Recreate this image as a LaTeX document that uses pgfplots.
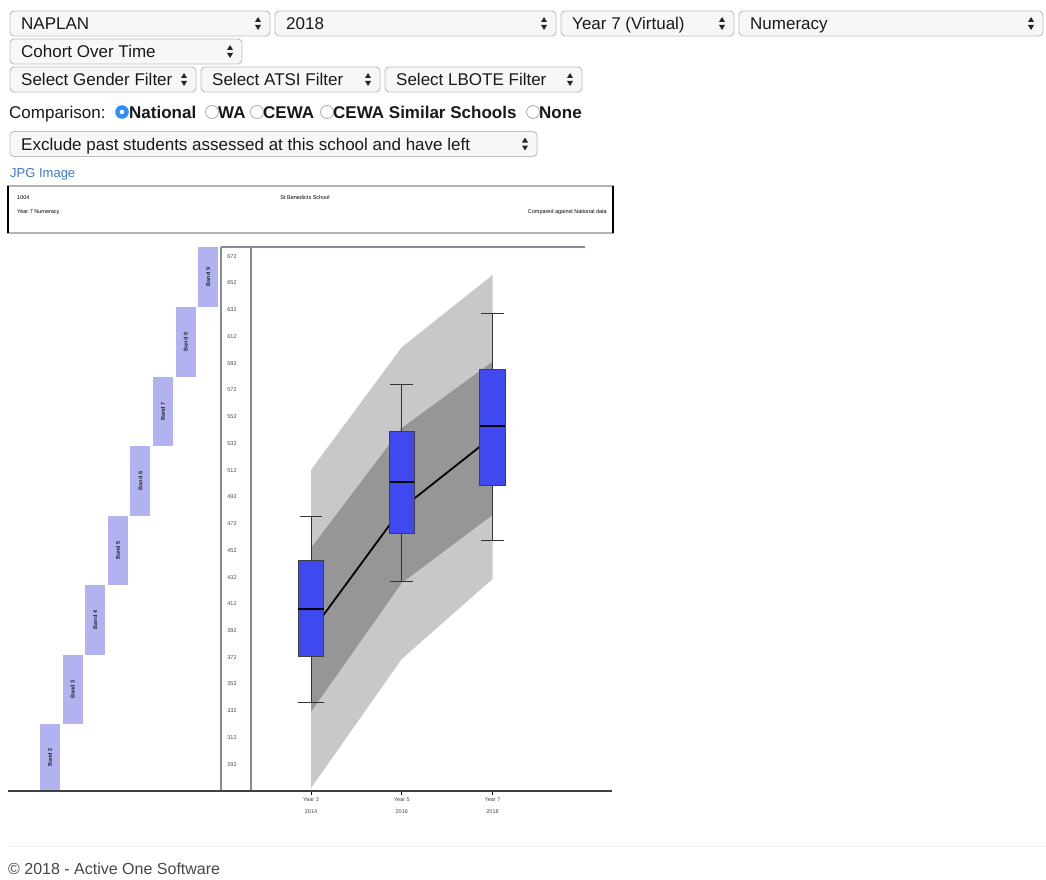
\documentclass[border=0pt]{standalone}
\usepackage{fontspec}
\setmainfont{Liberation Sans}
\usepackage{pgfplots}
\pgfplotsset{compat=1.18}
\definecolor{ddborder}{RGB}{190,190,190}
\definecolor{ddfill}{RGB}{247,247,247}
\definecolor{linkblue}{RGB}{60,120,205}
\definecolor{radioblue}{RGB}{50,140,245}
\definecolor{bandc}{RGB}{178,178,240}
\definecolor{outerc}{RGB}{200,200,200}
\definecolor{innerc}{RGB}{150,150,150}
\definecolor{boxblue}{RGB}{64,72,240}
\definecolor{framec}{RGB}{130,140,155}
\definecolor{tickcol}{RGB}{80,70,65}
\definecolor{uitext}{RGB}{25,25,25}
\newcommand\dd[4]{%
  \draw[rounded corners=4pt, draw=ddborder, fill=ddfill, line width=0.9pt] (#1,#3-12.5) rectangle (#2,#3+12.5);
  \node[anchor=base west, inner sep=0pt, text=uitext] at (#1+11,#3+6) {#4};
  \fill[black!85] (#2-15,#3-1.5) -- (#2-9,#3-1.5) -- (#2-12,#3-6.5) -- cycle;
  \fill[black!85] (#2-15,#3+1.5) -- (#2-9,#3+1.5) -- (#2-12,#3+6.5) -- cycle;
}
\newcommand\radio[2]{\draw[black!35, fill=white, line width=0.7pt] (#1,#2) circle (6.5);}
\begin{document}
\begin{tikzpicture}[font=\fontsize{17}{20}\selectfont]
\useasboundingbox (0pt,0pt) rectangle (1046pt,-880pt);
\clip (0pt,0pt) rectangle (1046pt,-880pt);
\fill[white] (0pt,0pt) rectangle (1046pt,-880pt);
\begin{scope}[x=1pt,y=-1pt]
  % row 1
  \dd{10}{270}{23.5}{NAPLAN}
  \dd{275}{556}{23.5}{2018}
  \dd{561}{734}{23.5}{Year 7 (Virtual)}
  \dd{739}{1043}{23.5}{Numeracy}
  % row 2
  \dd{10}{242}{51.5}{Cohort Over Time}
  % row 3
  \dd{10}{196}{79.5}{Select Gender Filter}
  \dd{201}{380}{79.5}{Select ATSI Filter}
  \dd{385}{582}{79.5}{Select LBOTE Filter}
  % comparison row
  \node[anchor=base west, inner sep=0pt, text=uitext] at (9,118) {Comparison:};
  \fill[radioblue] (122,112) circle (6.8);
  \fill[white] (122,112) circle (2.3);
  \node[anchor=base west, inner sep=0pt, text=uitext] at (129,118) {\bfseries National};
  \radio{212}{112}
  \node[anchor=base west, inner sep=0pt, text=uitext] at (218,118) {\bfseries WA};
  \radio{257}{112}
  \node[anchor=base west, inner sep=0pt, text=uitext] at (263,118) {\bfseries CEWA};
  \radio{327}{112}
  \node[anchor=base west, inner sep=0pt, text=uitext] at (333,118) {\bfseries CEWA Similar Schools};
  \radio{533}{112}
  \node[anchor=base west, inner sep=0pt, text=uitext] at (539,118) {\bfseries None};
  % row 5
  \dd{10}{537}{144}{Exclude past students assessed at this school and have left}
  % link
  \node[anchor=base west, inner sep=0pt, text=linkblue, font=\fontsize{13}{15}\selectfont] at (10,177.5) {JPG Image};
  % header box
  \draw[gray!60, line width=1.5pt, fill=white] (8,186) rectangle (613,233);
  \draw[black, line width=2pt] (8,186) -- (8,233);
  \draw[black, line width=2pt] (613,186) -- (613,233);
  \begin{scope}[font=\fontsize{5.5}{6}\selectfont]
    \node[anchor=west, inner sep=0pt] at (17,198) {1004};
    \node[anchor=center, inner sep=0pt] at (305,198) {St Benedicts School};
    \node[anchor=west, inner sep=0pt] at (17,212) {Year 7 Numeracy};
    \node[anchor=east, inner sep=0pt] at (607,212) {Compared against National data};
  \end{scope}
  % footer
  \draw[gray!12, line width=1pt] (8,846) -- (1046,846);
  \node[anchor=south west, inner sep=0pt, text=uitext!80, font=\fontsize{16}{18}\selectfont] at (8,875) {\textcopyright{} 2018 - Active One Software};
\end{scope}

% left axis: NAPLAN bands
\begin{axis}[at={(8pt,-791pt)}, anchor=south west, scale only axis,
  width=213pt, height=544pt, xmin=0.142, xmax=9.566, ymin=272, ymax=679,
  hide axis]
  \addplot[fill=bandc, draw=none] coordinates {(1.557,260) (2.443,260) (2.443,322) (1.557,322)} -- cycle;
  \addplot[fill=bandc, draw=none] coordinates {(2.557,322) (3.443,322) (3.443,374) (2.557,374)} -- cycle;
  \addplot[fill=bandc, draw=none] coordinates {(3.557,374) (4.443,374) (4.443,426) (3.557,426)} -- cycle;
  \addplot[fill=bandc, draw=none] coordinates {(4.557,426) (5.443,426) (5.443,478) (4.557,478)} -- cycle;
  \addplot[fill=bandc, draw=none] coordinates {(5.557,478) (6.443,478) (6.443,530) (5.557,530)} -- cycle;
  \addplot[fill=bandc, draw=none] coordinates {(6.557,530) (7.443,530) (7.443,582) (6.557,582)} -- cycle;
  \addplot[fill=bandc, draw=none] coordinates {(7.557,582) (8.443,582) (8.443,634) (7.557,634)} -- cycle;
  \addplot[fill=bandc, draw=none] coordinates {(8.557,634) (9.443,634) (9.443,690) (8.557,690)} -- cycle;
  \begin{scope}[every node/.style={rotate=90, font=\fontsize{5.5}{6}\selectfont\bfseries, text=black!85}]
    \node at (axis cs:2,297) {Band 2};
    \node at (axis cs:3,348) {Band 3};
    \node at (axis cs:4,400) {Band 4};
    \node at (axis cs:5,452) {Band 5};
    \node at (axis cs:6,504) {Band 6};
    \node at (axis cs:7,556) {Band 7};
    \node at (axis cs:8,608) {Band 8};
    \node at (axis cs:9,656.5) {Band 9};
  \end{scope}
\end{axis}

% main axis
\begin{axis}[at={(251pt,-791pt)}, anchor=south west, scale only axis,
  width=334pt, height=544pt, xmin=1.6777, xmax=9.0386, ymin=272, ymax=679,
  axis lines=left, axis line style={draw=none},
  ytick={292,312,...,672}, ytick style={draw=none},
  xtick={3,5,7}, xticklabels={{Year 3\\2014},{Year 5\\2016},{Year 7\\2018}},
  xtick style={draw=black, line width=0.8pt}, tick align=outside,
  major tick length=4pt,
  /pgf/number format/assume math mode=true,
  yticklabel style={font=\fontsize{5.5}{6}\selectfont, text=tickcol, anchor=center, xshift=-15pt},
  xticklabel style={font=\fontsize{5.5}{12.5}\selectfont, text=tickcol, align=center, yshift=1pt},
  clip=true]
  % national bands
  \addplot[fill=outerc, draw=none] coordinates {(3,512.2) (5,604) (7,658) (7,430.6) (5,370.8) (3,274.2)} -- cycle;
  \addplot[fill=innerc, draw=none] coordinates {(3,453.8) (5,543.6) (7,593.2) (7,478.5) (5,427.6) (3,331.3)} -- cycle;
  % mean line
  \addplot[black, line width=1.8pt] coordinates {(3,391) (5,483.4) (7,537.1)};
  % whiskers
  \addplot[black!80, line width=0.9pt] coordinates {(3,338.6) (3,477.7)};
  \addplot[black!80, line width=0.9pt] coordinates {(2.75,477.7) (3.25,477.7)};
  \addplot[black!80, line width=0.9pt] coordinates {(2.72,338.6) (3.28,338.6)};
  \addplot[black!80, line width=0.9pt] coordinates {(5,429.1) (5,576.5)};
  \addplot[black!80, line width=0.9pt] coordinates {(4.75,576.5) (5.25,576.5)};
  \addplot[black!80, line width=0.9pt] coordinates {(4.75,429.1) (5.25,429.1)};
  \addplot[black!80, line width=0.9pt] coordinates {(7,459.8) (7,629.4)};
  \addplot[black!80, line width=0.9pt] coordinates {(6.75,629.4) (7.25,629.4)};
  \addplot[black!80, line width=0.9pt] coordinates {(6.75,459.8) (7.25,459.8)};
  % boxes (lower quartile to upper quartile)
  \addplot[fill=boxblue, draw=black!75, line width=0.8pt] coordinates {(2.72,373) (3.28,373) (3.28,444.8) (2.72,444.8)} -- cycle;
  \addplot[fill=boxblue, draw=black!75, line width=0.8pt] coordinates {(4.73,464.8) (5.27,464.8) (5.27,540.8) (4.73,540.8)} -- cycle;
  \addplot[fill=boxblue, draw=black!75, line width=0.8pt] coordinates {(6.72,500.4) (7.28,500.4) (7.28,587.7) (6.72,587.7)} -- cycle;
  % medians
  \addplot[black, line width=2pt] coordinates {(2.72,408.2) (3.28,408.2)};
  \addplot[black, line width=2pt] coordinates {(4.73,503.4) (5.27,503.4)};
  \addplot[black, line width=2pt] coordinates {(6.72,545.3) (7.28,545.3)};
\end{axis}

% chart frame lines
\begin{scope}[x=1pt,y=-1pt]
  \draw[framec, line width=1.2pt] (221,247) -- (585,247);
  \draw[framec, line width=1.2pt] (221,247) -- (221,791);
  \draw[framec, line width=1.2pt] (251,247) -- (251,791);
  \draw[black!75, line width=2pt] (8,791) -- (612,791);
\end{scope}
\end{tikzpicture}
\end{document}
